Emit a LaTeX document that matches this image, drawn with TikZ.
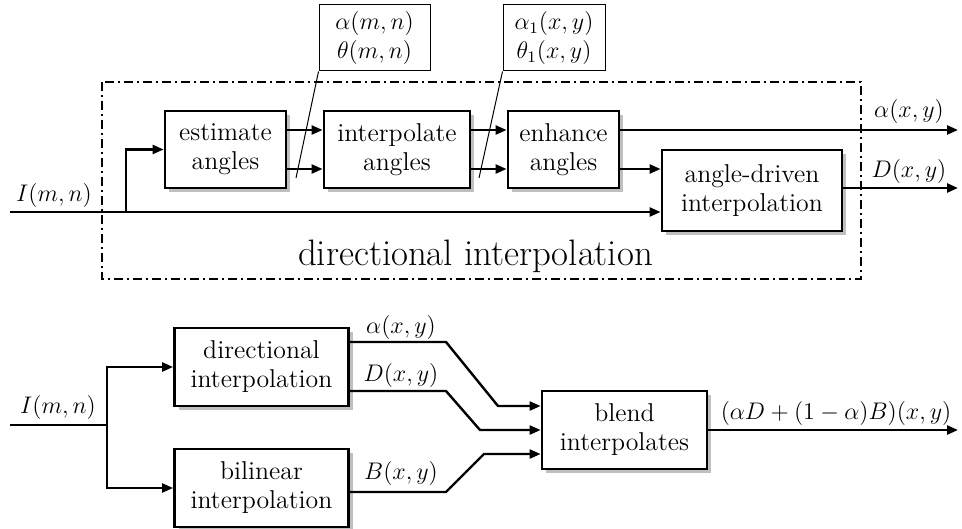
\documentclass[tikz,border=0pt]{standalone}
\usetikzlibrary{arrows.meta,shadows,calc}
\begin{document}
\begin{tikzpicture}[x=0.5pt,y=-0.5pt,
  every node/.style={font=\fontsize{12}{14.5}\selectfont},
  blk/.style={draw,line width=1.4pt,fill=white,align=center,inner sep=0pt,
    font=\fontsize{12.9}{14.5}\selectfont,
    drop shadow={shadow xshift=2pt,shadow yshift=-2pt,fill=black!25,opacity=1}},
  lbl/.style={draw,line width=0.5pt,align=center,inner sep=0pt},
  wire/.style={line width=1.2pt},
  arr/.style={line width=1.2pt,-{Triangle[length=5.5pt,width=4.5pt]}},
  ptr/.style={line width=0.5pt},
  grp/.style={line width=1pt,dash pattern=on 4.5pt off 2pt on 1pt off 2pt}]
\useasboundingbox (0,0) rectangle (962,529);
% ---------- top diagram ----------
\draw[grp] (102,82) rectangle (861,279);
\node[blk,minimum width=60.5pt,minimum height=38.5pt] (est) at (225.5,149.5) {estimate\\angles};
\node[blk,minimum width=73pt,minimum height=38.5pt] (ipa) at (397,149.5) {interpolate\\angles};
\node[blk,minimum width=55.5pt,minimum height=38.5pt] (enh) at (563.5,149.5) {enhance\\angles};
\node[blk,minimum width=90pt,minimum height=40.5pt] (adi) at (752,190.5) {angle-driven\\interpolation};
\node[lbl,minimum width=55.5pt,minimum height=33pt] (lb1) at (374.5,38) {$\alpha(m,n)$\\$\theta(m,n)$};
\node[lbl,minimum width=51pt,minimum height=33pt] (lb2) at (554,38) {$\alpha_1(x,y)$\\$\theta_1(x,y)$};
\node[font=\fontsize{18.4}{22}\selectfont,anchor=base] (title) at (475.5,265) {directional interpolation};
\node[anchor=base] (tin) at (54,202) {$I(m,n)$};
\node[anchor=base] (tal) at (909,118) {$\alpha(x,y)$};
\node[anchor=base] (tD) at (909,177) {$D(x,y)$};
\coordinate (in1) at (10,212);
\coordinate (br1) at (126,212);
\coordinate (outA) at (958,130);
\coordinate (outD) at (958,188);
\coordinate (p1) at (296,178);
\coordinate (p2) at (479,178);
\draw[arr] (in1) -- (adi.west |- in1);
\draw[arr] (br1) |- (est.west);
\draw[arr] ($(est.east)+(0,-19.5)$) -- ($(ipa.west)+(0,-19.5)$);
\draw[arr] ($(est.east)+(0,19.5)$) -- ($(ipa.west)+(0,19.5)$);
\draw[arr] ($(ipa.east)+(0,-19.5)$) -- ($(enh.west)+(0,-19.5)$);
\draw[arr] ($(ipa.east)+(0,19.5)$) -- ($(enh.west)+(0,19.5)$);
\draw[arr] ($(enh.east)+(0,-19.5)$) -- (outA);
\draw[arr] ($(enh.east)+(0,19.5)$) -- ($(adi.west)+(0,-21.5)$);
\draw[arr] (adi.east |- outD) -- (outD);
\draw[ptr] (lb1.south west) -- (p1);
\draw[ptr] (lb2.south west) -- (p2);
% ---------- bottom diagram ----------
\node[blk,minimum width=87pt,minimum height=39pt] (dir) at (261.5,367) {directional\\interpolation};
\node[blk,minimum width=87pt,minimum height=39pt] (bil) at (261.5,488) {bilinear\\interpolation};
\node[blk,minimum width=82.5pt,minimum height=39pt] (bld) at (624.5,430) {blend\\interpolates};
\node[anchor=base] (bin) at (58,413) {$I(m,n)$};
\node[anchor=base] (bal) at (401,333) {$\alpha(x,y)$};
\node[anchor=base] (bD) at (401,381) {$D(x,y)$};
\node[anchor=base] (bB) at (401,479) {$B(x,y)$};
\node[anchor=base] (bout) at (836,419) {$(\alpha D+(1-\alpha)B)(x,y)$};
\coordinate (in2) at (10,425);
\coordinate (br2) at (107,425);
\coordinate (a1) at (446,342);
\coordinate (a2) at (498,406);
\coordinate (d1) at (446,391);
\coordinate (d2) at (480,430);
\coordinate (b1) at (446,492);
\coordinate (b2) at (484,454);
\coordinate (out2) at (958,430);
\draw[wire] (in2) -- (br2);
\draw[arr] (br2) |- (dir.west);
\draw[arr] (br2) |- (bil.west);
\draw[arr] (dir.east |- a1) -- (a1) -- (a2) -- (bld.west |- a2);
\draw[arr] (dir.east |- d1) -- (d1) -- (d2) -- (bld.west |- d2);
\draw[arr] (bil.east |- b1) -- (b1) -- (b2) -- (bld.west |- b2);
\draw[arr] (bld.east) -- (out2);
\end{tikzpicture}
\end{document}
